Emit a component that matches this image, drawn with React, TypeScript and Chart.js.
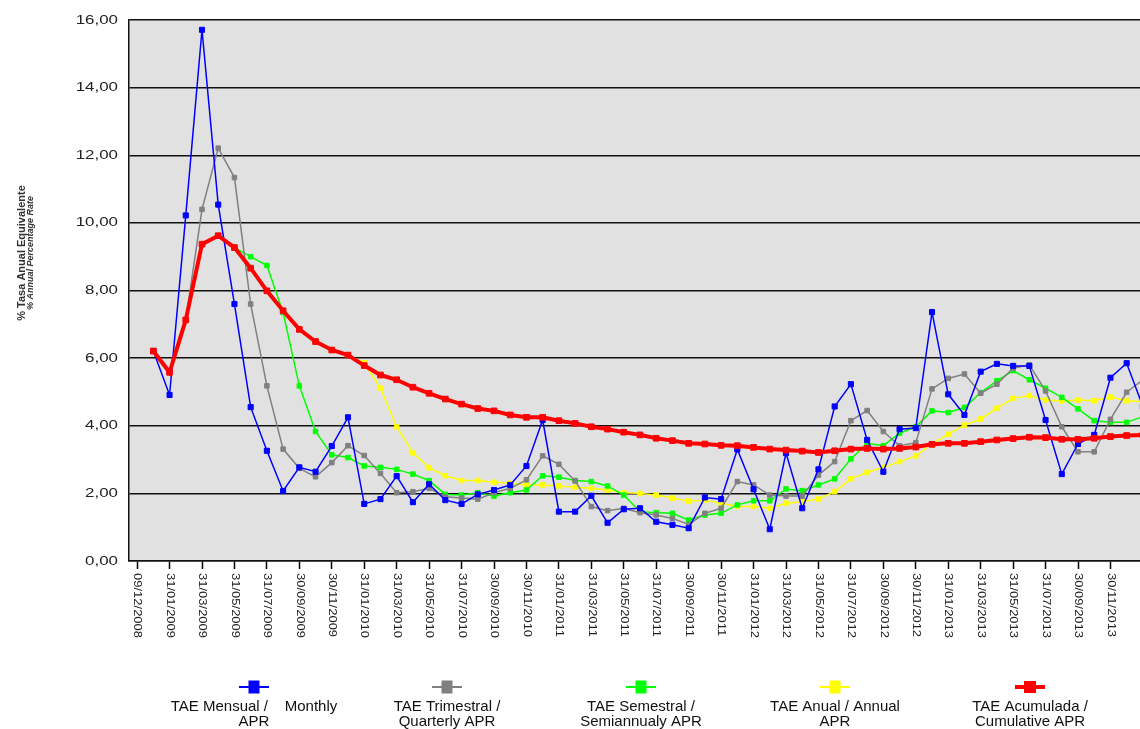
import React, { useEffect, useRef } from 'react';
import { Chart, registerables } from 'chart.js';

Chart.register(...registerables);

const categories = [
  '09/12/2008', '31/12/2008', '31/01/2009', '28/02/2009', '31/03/2009', '30/04/2009', '31/05/2009',
  '30/06/2009', '31/07/2009', '31/08/2009', '30/09/2009', '31/10/2009', '30/11/2009', '31/12/2009',
  '31/01/2010', '28/02/2010', '31/03/2010', '30/04/2010', '31/05/2010', '30/06/2010', '31/07/2010',
  '31/08/2010', '30/09/2010', '31/10/2010', '30/11/2010', '31/12/2010', '31/01/2011', '28/02/2011',
  '31/03/2011', '30/04/2011', '31/05/2011', '30/06/2011', '31/07/2011', '31/08/2011', '30/09/2011',
  '31/10/2011', '30/11/2011', '31/12/2011', '31/01/2012', '29/02/2012', '31/03/2012', '30/04/2012',
  '31/05/2012', '30/06/2012', '31/07/2012', '31/08/2012', '30/09/2012', '31/10/2012', '30/11/2012',
  '31/12/2012', '31/01/2013', '28/02/2013', '31/03/2013', '30/04/2013', '31/05/2013', '30/06/2013',
  '31/07/2013', '31/08/2013', '30/09/2013', '31/10/2013', '30/11/2013', '31/12/2013', '31/01/2014',
];

const monthly = [
  null, 6.21, 4.91, 10.22, 15.71, 10.54, 7.6, 4.55, 3.26, 2.07, 2.77, 2.64, 3.4, 4.25, 1.69, 1.83,
  2.51, 1.74, 2.27, 1.8, 1.69, 1.97, 2.1, 2.25, 2.81, 4.17, 1.46, 1.46, 1.93, 1.13, 1.53, 1.56,
  1.16, 1.07, 0.97, 1.88, 1.83, 3.3, 2.12, 0.94, 3.19, 1.56, 2.71, 4.57, 5.23, 3.58, 2.64, 3.9,
  3.93, 7.36, 4.93, 4.32, 5.6, 5.83, 5.77, 5.77, 4.17, 2.57, 3.46, 3.73, 5.42, 5.85, 4.57,
];

const quarterly = [
  null, null, null, 7.13, 10.4, 12.21, 11.34, 7.6, 5.18, 3.31, 2.74, 2.49, 2.91, 3.41, 3.12, 2.59,
  2.02, 2.05, 2.15, 1.9, 1.86, 1.83, 2.02, 2.15, 2.4, 3.11, 2.86, 2.37, 1.61, 1.49, 1.56, 1.43,
  1.36, 1.26, 1.08, 1.41, 1.56, 2.35, 2.25, 1.95, 1.92, 1.92, 2.54, 2.94, 4.15, 4.45, 3.83, 3.41,
  3.5, 5.09, 5.4, 5.53, 4.96, 5.23, 5.7, 5.8, 5.03, 3.97, 3.23, 3.23, 4.19, 4.99, 5.36,
];

const semiannual = [
  null, null, null, null, null, null, 9.27, 9.0, 8.74, 7.35, 5.18, 3.83, 3.14, 3.06, 2.81, 2.77,
  2.71, 2.57, 2.38, 1.97, 1.95, 2.02, 1.92, 2.02, 2.1, 2.52, 2.48, 2.38, 2.35, 2.22, 1.95, 1.46,
  1.43, 1.41, 1.21, 1.36, 1.41, 1.66, 1.78, 1.78, 2.13, 2.08, 2.25, 2.43, 3.02, 3.48, 3.41, 3.78,
  3.97, 4.44, 4.39, 4.54, 4.98, 5.33, 5.63, 5.36, 5.11, 4.84, 4.5, 4.15, 4.1, 4.1, 4.27,
];

const annual = [
  null, null, null, null, null, null, null, null, null, null, null, null, 6.24, 6.09, 5.86, 5.11,
  3.97, 3.2, 2.76, 2.52, 2.38, 2.38, 2.33, 2.3, 2.25, 2.25, 2.22, 2.18, 2.15, 2.1, 2.02, 2.0,
  1.95, 1.86, 1.77, 1.8, 1.71, 1.61, 1.61, 1.56, 1.71, 1.75, 1.83, 2.05, 2.43, 2.62, 2.77, 2.94,
  3.11, 3.46, 3.75, 4.02, 4.2, 4.52, 4.81, 4.89, 4.76, 4.73, 4.76, 4.74, 4.85, 4.74, 4.71,
];

const cumulative = [
  null, 6.21, 5.58, 7.13, 9.37, 9.62, 9.27, 8.66, 7.99, 7.4, 6.85, 6.49, 6.24, 6.09, 5.78, 5.5,
  5.36, 5.14, 4.96, 4.79, 4.64, 4.51, 4.44, 4.32, 4.25, 4.25, 4.15, 4.07, 3.97, 3.9, 3.81, 3.73,
  3.63, 3.56, 3.48, 3.46, 3.42, 3.41, 3.36, 3.31, 3.28, 3.25, 3.21, 3.26, 3.31, 3.33, 3.31, 3.33,
  3.37, 3.45, 3.48, 3.48, 3.53, 3.58, 3.62, 3.66, 3.65, 3.6, 3.6, 3.63, 3.68, 3.71, 3.73,
];

const seriesNames = [
  'TAE Mensual / Monthly APR',
  'TAE Trimestral / Quarterly APR',
  'TAE Semestral / Semiannualy APR',
  'TAE Anual / Annual APR',
  'TAE Acumulada / Cumulative APR',
];

const legendLines = [
  ['TAE Mensual /    Monthly', 'APR'],
  ['TAE Trimestral /', 'Quarterly APR'],
  ['TAE Semestral /', 'Semiannualy APR'],
  ['TAE Anual / Annual', 'APR'],
  ['TAE Acumulada /', 'Cumulative APR'],
];

const seriesColors = ['#0000ff', '#808080', '#00ff00', '#ffff00', '#ff0000'];

const yTitle = '% Tasa Anual Equivalente';
const ySubtitle = '% Annual Percentage Rate';

const FONT = '"Liberation Sans", Arial, sans-serif';

const decorPlugin = {
  id: 'decor',
  beforeDraw(chart: any) {
    const { ctx, chartArea: a } = chart;
    ctx.save();
    ctx.fillStyle = '#e1e1e1';
    ctx.fillRect(a.left, a.top, a.right - a.left, a.bottom - a.top);
    ctx.restore();
  },
  afterDraw(chart: any) {
    const { ctx, chartArea: a } = chart;
    const xs = chart.scales.x;
    const ys = chart.scales.y;
    ctx.save();
    // y tick labels
    ctx.fillStyle = '#222';
    ctx.font = `13px ${FONT}`;
    ctx.textAlign = 'right';
    ctx.textBaseline = 'middle';
    ys.ticks.forEach((t: any) => {
      const y = ys.getPixelForValue(t.value);
      ctx.save();
      ctx.translate(a.left - 11, y);
      ctx.scale(1.3, 1);
      ctx.fillText(t.value.toFixed(2).replace('.', ','), 0, 0);
      ctx.restore();
    });
    // x labels, rotated clockwise
    ctx.font = `10px ${FONT}`;
    ctx.textAlign = 'left';
    ctx.textBaseline = 'middle';
    categories.forEach((c, i) => {
      if (i % 2 !== 0) return;
      const x = xs.getPixelForValue(i);
      ctx.save();
      ctx.translate(x, a.bottom + 12);
      ctx.rotate(Math.PI / 2);
      ctx.scale(1.3, 1);
      ctx.fillText(c, 0, 0);
      ctx.restore();
    });
    // y titles
    ctx.textAlign = 'center';
    ctx.fillStyle = '#333';
    ctx.save();
    ctx.translate(21.5, 253);
    ctx.rotate(-Math.PI / 2);
    ctx.font = `bold 11px ${FONT}`;
    ctx.fillText(yTitle, 0, 0);
    ctx.restore();
    ctx.save();
    ctx.translate(31, 253);
    ctx.rotate(-Math.PI / 2);
    ctx.font = `italic bold 9px ${FONT}`;
    ctx.fillText(ySubtitle, 0, 0);
    ctx.restore();
    // legend
    const centers = [254, 447, 641, 835, 1030];
    legendLines.forEach((lines, i) => {
      const cx = centers[i];
      const col = seriesColors[i];
      ctx.strokeStyle = col;
      ctx.lineWidth = i === 4 ? 4 : 2;
      ctx.beginPath();
      ctx.moveTo(cx - 15, 687);
      ctx.lineTo(cx + 15, 687);
      ctx.stroke();
      ctx.fillStyle = col;
      if (i === 4) ctx.fillRect(cx - 6, 681, 12, 12);
      else ctx.fillRect(cx - 5.5, 680.5, 11, 13);
      ctx.fillStyle = '#111';
      ctx.font = `15px ${FONT}`;
      ctx.textAlign = 'center';
      ctx.fillText(lines[0], cx, 707);
      ctx.fillText(lines[1], cx, 722);
    });
    ctx.restore();
  },
};

export default function App() {
  const ref = useRef<HTMLCanvasElement | null>(null);
  useEffect(() => {
    if (!ref.current) return;
    const series = [monthly, quarterly, semiannual, annual, cumulative];
    const widths = [1.5, 1.5, 1.5, 1.5, 4];
    const radii = [3.6, 3.2, 3.2, 3.2, 4];
    const orders = [1, 2, 3, 4, 0];
    const chart = new Chart(ref.current, {
      type: 'line',
      data: {
        labels: categories,
        datasets: series.map((d, i) => ({
          label: seriesNames[i],
          data: d,
          borderColor: seriesColors[i],
          backgroundColor: seriesColors[i],
          borderWidth: widths[i],
          pointStyle: 'rect',
          pointRadius: radii[i],
          pointBorderWidth: 1,
          pointBorderColor: seriesColors[i],
          pointBackgroundColor: seriesColors[i],
          tension: 0,
          fill: false,
          order: orders[i],
        })),
      },
      options: {
        responsive: false,
        animation: false,
        layout: { padding: { top: 20, right: 9, bottom: 0, left: 0 } },
        plugins: {
          legend: { display: false },
          tooltip: { enabled: false },
          title: { display: false },
        },
        scales: {
          x: {
            type: 'category',
            offset: true,
            ticks: { display: false, autoSkip: false },
            grid: {
              display: true,
              offset: false,
              drawOnChartArea: false,
              drawTicks: true,
              tickLength: 8,
              tickWidth: 1.5,
              tickColor: (c: any) => (c.index % 2 === 0 ? '#000' : 'rgba(0,0,0,0)'),
              color: 'rgba(0,0,0,0)',
            },
            border: { display: true, color: '#111', width: 1.5 },
            afterFit: (s: any) => {
              s.height = 168;
            },
          },
          y: {
            min: 0,
            max: 16,
            ticks: { display: false, stepSize: 2 },
            grid: { color: '#111', lineWidth: 1.5, drawTicks: false },
            border: { display: true, color: '#111', width: 1.5 },
            afterFit: (s: any) => {
              s.width = 129;
            },
          },
        },
      },
      plugins: [decorPlugin],
    });
    return () => chart.destroy();
  }, []);
  return (
    <div
      style={{
        position: 'absolute',
        left: 0,
        top: 0,
        width: 1140,
        height: 729,
        overflow: 'hidden',
        background: '#fff',
      }}
    >
      <canvas ref={ref} width={1160} height={729} style={{ display: 'block' }} />
    </div>
  );
}
